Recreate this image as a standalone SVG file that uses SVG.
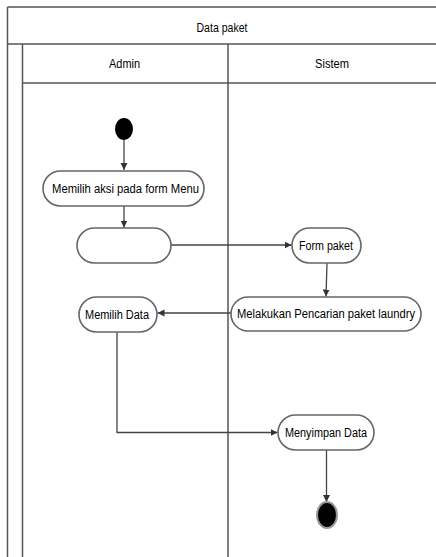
<svg xmlns="http://www.w3.org/2000/svg" width="436" height="557" viewBox="0 0 436 557">
<defs>
<marker id="arr" markerWidth="8" markerHeight="8" refX="7" refY="4" orient="auto" markerUnits="userSpaceOnUse">
<path d="M0,0.5 L7,4 L0,7.5 Z" fill="#333"/>
</marker>
</defs>
<style>
.lane{stroke:#555;stroke-width:1.5;fill:none}
.act{fill:#fff;stroke:#666;stroke-width:1.6}
.t{font-family:"Liberation Sans",Arial,sans-serif;font-size:12px;fill:#000;text-anchor:middle;dominant-baseline:central}
.c{stroke:#444;stroke-width:1.3;fill:none;marker-end:url(#arr)}
</style>
<rect width="436" height="557" fill="#fff"/>
<g id="swimlanes">
<line class="lane" x1="7.5" y1="7" x2="436" y2="7"/>
<line class="lane" x1="7.5" y1="7" x2="7.5" y2="557"/>
<line class="lane" x1="7.5" y1="44" x2="436" y2="44"/>
<line class="lane" x1="22.5" y1="44" x2="22.5" y2="557"/>
<line class="lane" x1="22.5" y1="83" x2="436" y2="83"/>
<line class="lane" x1="228" y1="44" x2="228" y2="557"/>
<text class="t" x="222" y="28" textLength="51" lengthAdjust="spacingAndGlyphs">Data paket</text>
<text class="t" x="124.5" y="64" textLength="31" lengthAdjust="spacingAndGlyphs">Admin</text>
<text class="t" x="332" y="64" textLength="34" lengthAdjust="spacingAndGlyphs">Sistem</text>
</g>
<g id="connectors">
<line class="c" x1="124" y1="140" x2="124" y2="170"/>
<line class="c" x1="124" y1="206" x2="124" y2="227.5"/>
<line class="c" x1="171" y1="245" x2="291.5" y2="245"/>
<line class="c" x1="327" y1="263" x2="326" y2="296.5"/>
<line class="c" x1="231" y1="313" x2="157.5" y2="313"/>
<polyline class="c" points="117,332 117,432.5 277.5,432.5"/>
<line class="c" x1="326.5" y1="450" x2="326.5" y2="502"/>
</g>
<g id="start">
<ellipse cx="124" cy="129" rx="9" ry="11" fill="#000"/>
</g>
<g id="memilih-aksi">
<rect class="act" x="43" y="171" width="161" height="35" rx="17.5"/>
<text class="t" x="125.5" y="188.5" textLength="147" lengthAdjust="spacingAndGlyphs">Memilih aksi pada form Menu</text>
</g>
<g id="blank-action">
<rect class="act" x="77" y="228" width="94" height="35" rx="17.5"/>
</g>
<g id="form-paket">
<rect class="act" x="292" y="228" width="69" height="35" rx="17.5"/>
<text class="t" x="326" y="245.5" textLength="54" lengthAdjust="spacingAndGlyphs">Form paket</text>
</g>
<g id="melakukan-pencarian">
<rect class="act" x="231" y="297" width="190" height="34" rx="17"/>
<text class="t" x="326" y="314" textLength="178" lengthAdjust="spacingAndGlyphs">Melakukan Pencarian paket laundry</text>
</g>
<g id="memilih-data">
<rect class="act" x="79" y="297" width="78" height="35" rx="17.5"/>
<text class="t" x="117" y="314.5" textLength="64" lengthAdjust="spacingAndGlyphs">Memilih Data</text>
</g>
<g id="menyimpan-data">
<rect class="act" x="278" y="415" width="96" height="35" rx="17.5"/>
<text class="t" x="326" y="432.5" textLength="82" lengthAdjust="spacingAndGlyphs">Menyimpan Data</text>
</g>
<g id="end">
<ellipse cx="327" cy="515" rx="10" ry="13" fill="#000" stroke="#999" stroke-width="2"/>
</g>
</svg>
